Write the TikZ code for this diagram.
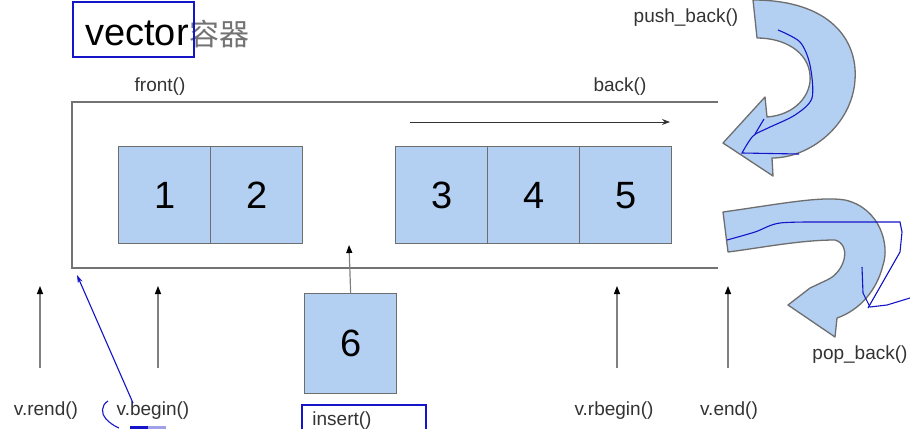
\documentclass[tikz,border=0pt]{standalone}
\usepackage{fontspec}
\setmainfont{Liberation Sans}
\newfontfamily\cjk{Noto Sans CJK SC}
\usetikzlibrary{arrows.meta}
\definecolor{boxfill}{HTML}{B3CFF2}
\definecolor{edge}{HTML}{6E6E6E}
\definecolor{ink}{HTML}{1414C8}
\begin{document}
\begin{tikzpicture}[x=1pt,y=-1pt,
 cell/.style={draw=edge, line width=1.3pt, fill=boxfill, minimum width=92pt, minimum height=97pt, inner sep=0pt, font=\fontsize{38}{40}\selectfont, anchor=north west},
 lbl/.style={font=\fontsize{19}{20}\selectfont, text=black!80, inner sep=0pt},
 up/.style={draw=black!50, line width=1.2pt, -{Triangle[length=8pt,width=6pt,color=black]}},
 pen/.style={draw=ink, line width=1.1pt},
 bigarrow/.style={draw=edge, line width=1.3pt, fill=boxfill, line join=round}]
\useasboundingbox (0,0) rectangle (910,429);
\fill[white] (0,0) rectangle (910,429);

% title
\node[anchor=base west, inner sep=0pt, font=\fontsize{38}{40}\selectfont] (title) at (85,45) {vector};
\node[anchor=base west, inner sep=0pt, font=\fontsize{30}{32}\selectfont\cjk, text=black!55] (cn) at (title.base east) {容器};
\draw[pen] (73,2) rectangle (194,57);

% container
\draw[draw=black!55, line width=1.2pt] (718,102) -- (72,102) -- (72,268) -- (718,268);
\node[lbl] (front) at (160,87) {front()};
\node[lbl] (back) at (620,87) {back()};
\coordinate (dirS) at (410,122);
\coordinate (dirE) at (670,122);
\draw[black!80, line width=1pt, -{Stealth[length=8pt,width=6pt]}] (dirS) -- (dirE);

% cells
\node[cell] (c1) at (118,146) {1};
\node[cell] (c2) at (210,146) {2};
\node[cell] (c3) at (395,146) {3};
\node[cell] (c4) at (487,146) {4};
\node[cell] (c5) at (579,146) {5};
\node[cell, minimum height=100pt] (c6) at (304,293) {6};
\coordinate (insT) at (349,245);
\draw[up] (c6.north) -- (insT);

% iterator labels and arrows
\node[lbl] (rend) at (46,411) {v.rend()};
\node[lbl] (begin) at (153,411) {v.begin()};
\node[lbl] (rbegin) at (614,411) {v.rbegin()};
\node[lbl] (vend) at (729,411) {v.end()};
\node[lbl] (insert) at (342,421) {insert()};
\node[lbl] (push) at (686,18) {push\_back()};
\node[lbl] (pop) at (860,355) {pop\_back()};
\coordinate (rendB) at (40,368);  \coordinate (rendT) at (40,286);
\coordinate (beginB) at (158,368); \coordinate (beginT) at (158,286);
\coordinate (rbeginB) at (617,368); \coordinate (rbeginT) at (617,286);
\coordinate (vendB) at (728,368); \coordinate (vendT) at (728,286);
\draw[up] (rendB) -- (rendT);
\draw[up] (beginB) -- (beginT);
\draw[up] (rbeginB) -- (rbeginT);
\draw[up] (vendB) -- (vendT);

% push_back arrow
\draw[bigarrow] (753,0) .. controls (830,0) and (858,40) .. (855,80)
  .. controls (852,125) and (810,158) .. (772,158) -- (773,176) -- (723,143) -- (765,97) -- (767,117)
  .. controls (795,115) and (812,95) .. (810,75) .. controls (808,52) and (785,38) .. (757,38) -- cycle;
% pop_back arrow
\draw[bigarrow] (723,212) .. controls (780,204) and (820,196) .. (845,200)
  .. controls (880,208) and (890,245) .. (883,265) .. controls (877,290) and (860,310) .. (837,318)
  -- (835,337) -- (788,305) -- (810,288) -- (827,280)
  .. controls (845,272) and (852,245) .. (835,240) .. controls (800,240) and (760,248) .. (728,252) -- cycle;

% hand-drawn annotations
\coordinate (penS) at (133,403);
\coordinate (penE) at (77,275);
\draw[pen, -{Stealth[length=8pt,width=5pt]}] (penS) -- (penE);
\draw[pen] (108,401) .. controls (101,405) and (101,414) .. (106,419) .. controls (110,423) and (114,426) .. (119,428);
\fill[ink] (130,426) rectangle (148,429);
\fill[ink!40] (148,426) rectangle (166,429);
\draw[pen] (302,429) -- (302,405) -- (426,405) -- (426,429);
\draw[pen] plot[smooth] coordinates {(778,30) (800,42) (810,65) (812,98) (795,115) (768,128) (753,136) (742,153)} -- (799,154);
\draw[pen] (764,119) -- (755,134);
\draw[pen] plot[smooth] coordinates {(727,240) (755,232) (780,223) (830,222)} -- (900,222) -- (902,232) -- (900,252) -- (880,287) -- (868,308);
\draw[pen] (862,267) -- (863,293) -- (870,307) -- (887,305) -- (910,298);
\end{tikzpicture}
\end{document}
